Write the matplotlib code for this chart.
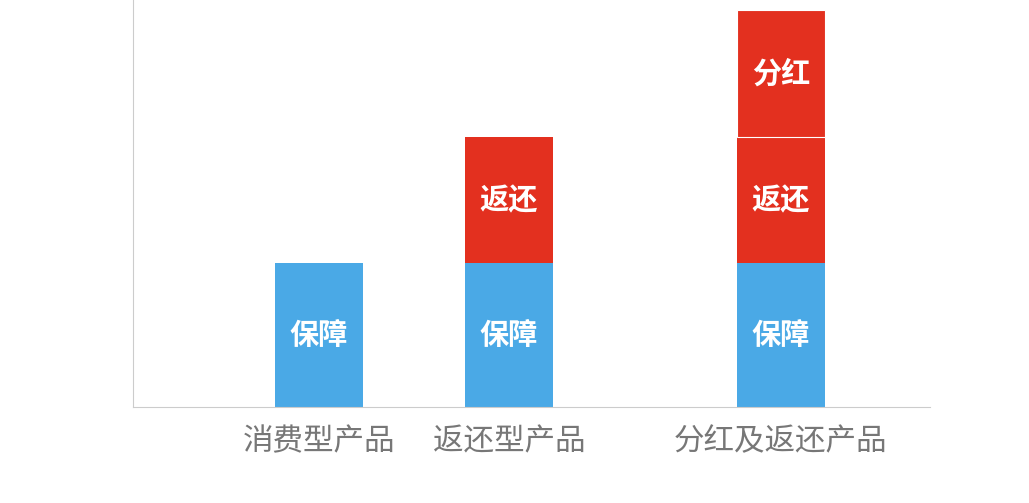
import matplotlib
matplotlib.use("Agg")
import matplotlib.pyplot as plt

plt.rcParams['font.family'] = ['Noto Sans CJK SC', 'DejaVu Sans']

categories = ['消费型产品', '返还型产品', '分红及返还产品']
positions = [0, 1, 2.43]
baozhang = [1.0, 1.0, 1.0]
fanhuan = [0, 0.88, 0.88]
fenhong = [0, 0, 0.88]

blue = '#4aa9e6'
red = '#e3301f'

fig = plt.figure(figsize=(10.29, 5.03), dpi=100)
ax = fig.add_axes([0.129, 0.191, 0.775, 0.809])
w = 0.463
ax.bar(positions, baozhang, width=w, color=blue)
for x, h in zip(positions, baozhang):
    ax.text(x, h/2, '保障', ha='center', va='center', color='white', fontsize=21, fontweight='bold')
b2 = [baozhang[i] for i in range(3)]
for i, x in enumerate(positions):
    if fanhuan[i] > 0:
        ax.bar(x, fanhuan[i], width=w, bottom=b2[i], color=red)
        ax.text(x, b2[i]+fanhuan[i]/2, '返还', ha='center', va='center', color='white', fontsize=21, fontweight='bold')
    if fenhong[i] > 0:
        bb = b2[i]+fanhuan[i]
        ax.bar(x, fenhong[i], width=w, bottom=bb, color=red, edgecolor='white', linewidth=0.8)
        ax.text(x, bb+fenhong[i]/2, '分红', ha='center', va='center', color='white', fontsize=21, fontweight='bold')

ax.set_xlim(-0.979, 3.216)
ax.set_ylim(0, 2.83)
ax.set_xticks(positions)
ax.set_xticklabels(categories, fontsize=22, color='#777777')
ax.tick_params(axis='x', length=0, pad=14)
ax.set_yticks([])
for s in ['top', 'right']:
    ax.spines[s].set_visible(False)
ax.spines['left'].set_color('#cccccc')
ax.spines['bottom'].set_color('#cccccc')
fig.savefig('out.png', dpi=100)
